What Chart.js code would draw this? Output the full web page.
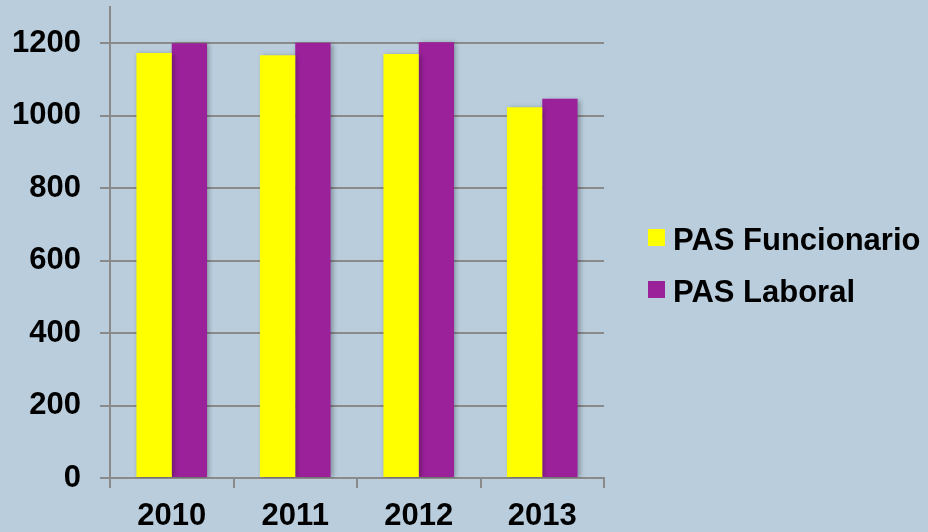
<!DOCTYPE html>
<html>
<head>
<meta charset="utf-8">
<script src="https://cdn.jsdelivr.net/npm/chart.js@4"></script>
<style>
  html, body { margin: 0; padding: 0; background: #b9cddc; }
  #wrap { width: 928px; height: 532px; }
</style>
</head>
<body>
<div id="wrap"><canvas id="chart" width="928" height="532"></canvas></div>
<script>
// Data
const years = ['2010', '2011', '2012', '2013'];
const funcionario = [1173, 1167, 1170, 1023];
const laboral = [1200, 1201, 1203, 1047];
const seriesNames = ['PAS Funcionario', 'PAS Laboral'];

const gridColor = '#8a8a8a';
const fontFamily = '"Liberation Sans", Arial, sans-serif';

// Soft shadow behind the bars
const barShadow = {
    id: 'barShadow',
    beforeDatasetsDraw(chart) {
        const ctx = chart.ctx;
        ctx.save();
        ctx.shadowColor = 'rgba(0,0,0,0.3)';
        ctx.shadowBlur = 5;
        ctx.shadowOffsetX = 2;
        ctx.shadowOffsetY = 1;
    },
    afterDatasetsDraw(chart) {
        chart.ctx.restore();
    }
};

// Legend on the right, drawn from the datasets
const sideLegend = {
    id: 'sideLegend',
    afterDraw(chart) {
        const ctx = chart.ctx;
        ctx.save();
        ctx.font = 'bold 31px ' + fontFamily;
        ctx.textBaseline = 'alphabetic';
        chart.data.datasets.forEach((ds, i) => {
            const top = 229 + i * 52;
            ctx.fillStyle = ds.backgroundColor;
            ctx.fillRect(648, top, 17, 17);
            ctx.fillStyle = '#000';
            ctx.fillText(ds.label, 673, top + 20.5);
        });
        ctx.restore();
    }
};

Chart.defaults.font.family = fontFamily;
Chart.defaults.font.size = 31;
Chart.defaults.font.weight = 'bold';
Chart.defaults.color = '#000';

const ctx = document.getElementById('chart').getContext('2d');
new Chart(ctx, {
    type: 'bar',
    data: {
        labels: years,
        datasets: [{
            label: seriesNames[0],
            data: funcionario,
            backgroundColor: '#ffff00',
            borderWidth: 0,
            categoryPercentage: 0.572,
            barPercentage: 1
        }, {
            label: seriesNames[1],
            data: laboral,
            backgroundColor: '#9b219b',
            borderWidth: 0,
            categoryPercentage: 0.572,
            barPercentage: 1
        }]
    },
    options: {
        responsive: false,
        animation: false,
        layout: { padding: { top: 7, right: 324, bottom: 0, left: 0 } },
        plugins: {
            legend: { display: false },
            tooltip: { enabled: false }
        },
        scales: {
            x: {
                grid: {
                    drawOnChartArea: false,
                    drawTicks: true,
                    tickLength: 10,
                    offset: true,
                    color: gridColor,
                    lineWidth: 2
                },
                border: { color: gridColor, width: 2 },
                ticks: { padding: 10 },
                afterFit(scale) {
                    scale.height = 54;
                    scale.paddingLeft = 0;
                    scale.paddingRight = 0;
                }
            },
            y: {
                min: 0,
                max: 1300,
                grid: {
                    color: gridColor,
                    lineWidth: 2,
                    tickLength: 10
                },
                border: { color: gridColor, width: 2 },
                ticks: {
                    stepSize: 200,
                    includeBounds: false,
                    padding: 19,
                    callback: v => String(v)
                },
                afterFit(scale) {
                    scale.width = 110;
                    scale.paddingTop = 0;
                    scale.paddingBottom = 0;
                }
            }
        }
    },
    plugins: [barShadow, sideLegend]
});
</script>
</body>
</html>
